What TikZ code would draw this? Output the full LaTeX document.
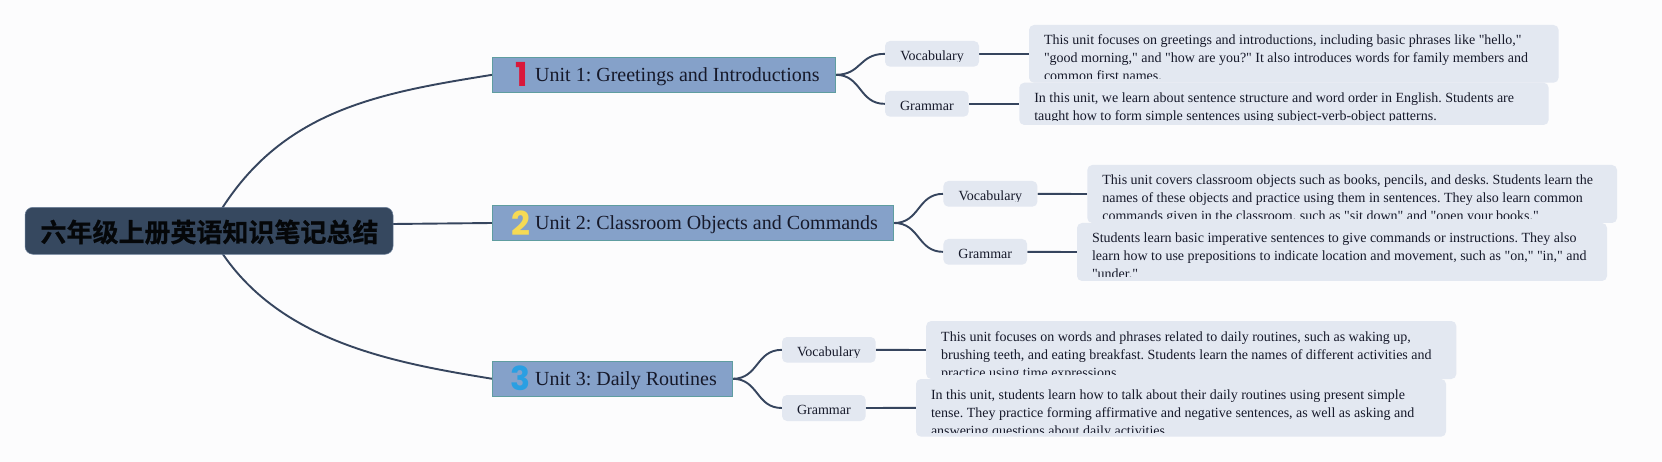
\documentclass[tikz,border=0pt]{standalone}
\usepackage{fontspec}
\setmainfont{Liberation Serif}[Ligatures=TeXOff]
\newfontfamily\cjkbold[BoldFont=Noto Sans CJK SC Bold,BoldFeatures={FakeBold=0.8}]{Noto Sans CJK SC}
\newfontfamily\numfont{Poppins}
\usetikzlibrary{backgrounds}
\definecolor{pagebg}{HTML}{FCFCFD}
\definecolor{rootfill}{HTML}{36485F}
\definecolor{rootedge}{HTML}{6B7F99}
\definecolor{unitfill}{HTML}{85A1C9}
\definecolor{unitedge}{HTML}{5F9DA0}
\definecolor{subfill}{HTML}{E3E8F1}
\definecolor{linkcol}{HTML}{36455E}
\definecolor{inkcol}{HTML}{16192A}
\definecolor{numred}{HTML}{D9183B}
\definecolor{numyellow}{HTML}{F6DA55}
\definecolor{numblue}{HTML}{2A9FE2}
\tikzset{
  rootbox/.style={fill=rootfill,draw=rootedge,line width=.5pt,rounded corners=8pt,inner sep=0pt},
  unitbox/.style={fill=unitfill,draw=unitedge,line width=.8pt,inner sep=0pt},
  subbox/.style={fill=subfill,draw=none,rounded corners=5pt,inner sep=0pt},
  unittext/.style={inner sep=0pt,anchor=base west,text=inkcol,font=\frenchspacing\fontsize{20}{24}\selectfont},
  numtext/.style={inner sep=0pt,anchor=base,font=\numfont\bfseries\fontsize{33}{33}\selectfont},
  subtext/.style={inner sep=0pt,anchor=base,text=inkcol,font=\fontsize{14}{18}\selectfont},
  bodytext/.style={inner sep=0pt,anchor=north west,align=left,text=inkcol,font=\frenchspacing\fontsize{14}{18}\selectfont},
  link/.style={draw=linkcol,line width=1.9pt},
}
\newcommand{\branchitem}[7]{% name x1 y1 x2 y2 text clipbottom
  \node[subbox,minimum width=#4pt-#2pt,minimum height=#5pt-#3pt] (#1) at ({(#2+#4)/2},{(#3+#5)/2}) {};
  \begin{scope}
    \clip (#2,#3) rectangle (#4,#7);
    \node[subtext] (#1t) at ({(#2+#4)/2},{#3+19.5}) {#6};
  \end{scope}
}
\newcommand{\bodyitem}[6]{% name x1 y1 x2 y2 text
  \node[subbox,minimum width=#4pt-#2pt,minimum height=#5pt-#3pt] (#1) at ({(#2+#4)/2},{(#3+#5)/2}) {};
  \begin{scope}
    \clip (#2,#3) rectangle (#4,{#5-4.5});
    \node[bodytext] (#1t) at ({#2+14.8},{#3+7.8}) {\rule{0pt}{12pt}#6};
  \end{scope}
}
\begin{document}
\begin{tikzpicture}[x=1pt,y=-1pt]
\path[use as bounding box] (0,0) rectangle (1662,462);

% root
\node[rootbox,minimum width=368pt,minimum height=47pt] (root) at (209,230.8) {};
\node[inner sep=0pt,text=black!90!rootfill,font=\cjkbold\bfseries\fontsize{26}{30}\selectfont] (roott) at (209.5,232) {六年级上册英语知识笔记总结};
\coordinate (rootr) at (392.5,224);

% units
\node[unitbox,minimum width=342.6pt,minimum height=35pt] (u1) at (664,74.8) {};
\node[numtext,text=numred] (u1n) at (521.5,86.5) {1};
\node[unittext] (u1t) at (535,81.7) {Unit 1: Greetings and Introductions};

\node[unitbox,minimum width=400.9pt,minimum height=35pt] (u2) at (693.2,223) {};
\node[numtext,text=numyellow] (u2n) at (520.5,235.5) {2};
\node[unittext] (u2t) at (535,229.7) {Unit 2: Classroom Objects and Commands};

\node[unitbox,minimum width=239.6pt,minimum height=35pt] (u3) at (612.5,378.8) {};
\node[numtext,text=numblue] (u3n) at (520.5,390.5) {3};
\node[unittext] (u3t) at (535,385.5) {Unit 3: Daily Routines};

% sub nodes
\branchitem{v1}{885}{41}{979}{66.7}{Vocabulary}{61.5}
\branchitem{g1}{885}{91}{968.7}{116.7}{Grammar}{116.7}
\branchitem{v2}{943.4}{181}{1037.4}{206.7}{Vocabulary}{201.5}
\branchitem{g2}{943.4}{239}{1027.1}{264.7}{Grammar}{264.7}
\branchitem{v3}{782}{337}{875.7}{362.7}{Vocabulary}{357.5}
\branchitem{g3}{782}{395}{865.7}{421}{Grammar}{421}

% details
\bodyitem{d1a}{1029}{25}{1558.6}{82.7}{This unit focuses on greetings and introductions, including basic phrases like "hello,"\\"good morning," and "how are you?" It also introduces words for family members and\\common first names.}
\bodyitem{d1b}{1019.3}{82.7}{1548.6}{125}{In this unit, we learn about sentence structure and word order in English. Students are\\taught how to form simple sentences using subject-verb-object patterns.}
\bodyitem{d2a}{1087.3}{165}{1617}{223}{This unit covers classroom objects such as books, pencils, and desks. Students learn the\\names of these objects and practice using them in sentences. They also learn common\\commands given in the classroom, such as "sit down" and "open your books."}
\bodyitem{d2b}{1077}{223}{1607}{281}{Students learn basic imperative sentences to give commands or instructions. They also\\learn how to use prepositions to indicate location and movement, such as "on," "in," and\\"under."}
\bodyitem{d3a}{926.2}{321}{1456.3}{379}{This unit focuses on words and phrases related to daily routines, such as waking up,\\brushing teeth, and eating breakfast. Students learn the names of different activities and\\practice using time expressions.}
\bodyitem{d3b}{916}{379}{1446}{436.7}{In this unit, students learn how to talk about their daily routines using present simple\\tense. They practice forming affirmative and negative sentences, as well as asking and\\answering questions about daily activities.}

\begin{pgfonlayer}{background}
\fill[pagebg] (0,0) rectangle (1662,462);
\draw[link] (root.center) .. controls +(63,-119) and +(-120,19.2) .. (u1.west);
\draw[link] (rootr) -- (u2.west);
\draw[link] (root.center) .. controls +(56,109) and +(-103,-16.8) .. (u3.west);
\foreach \u/\v/\g in {u1/v1/g1,u2/v2/g2,u3/v3/g3}{
  \draw[link] (\u.east) .. controls +(26,0) and ([xshift=-26pt]\v.west) .. (\v.west);
  \draw[link] (\u.east) .. controls +(26,0) and ([xshift=-26pt]\g.west) .. (\g.west);
}
\foreach \a/\b in {v1/d1a,g1/d1b,v2/d2a,g2/d2b,v3/d3a,g3/d3b}{
  \draw[link] (\a.east) -- (\b.west);
}
\end{pgfonlayer}
\end{tikzpicture}
\end{document}
